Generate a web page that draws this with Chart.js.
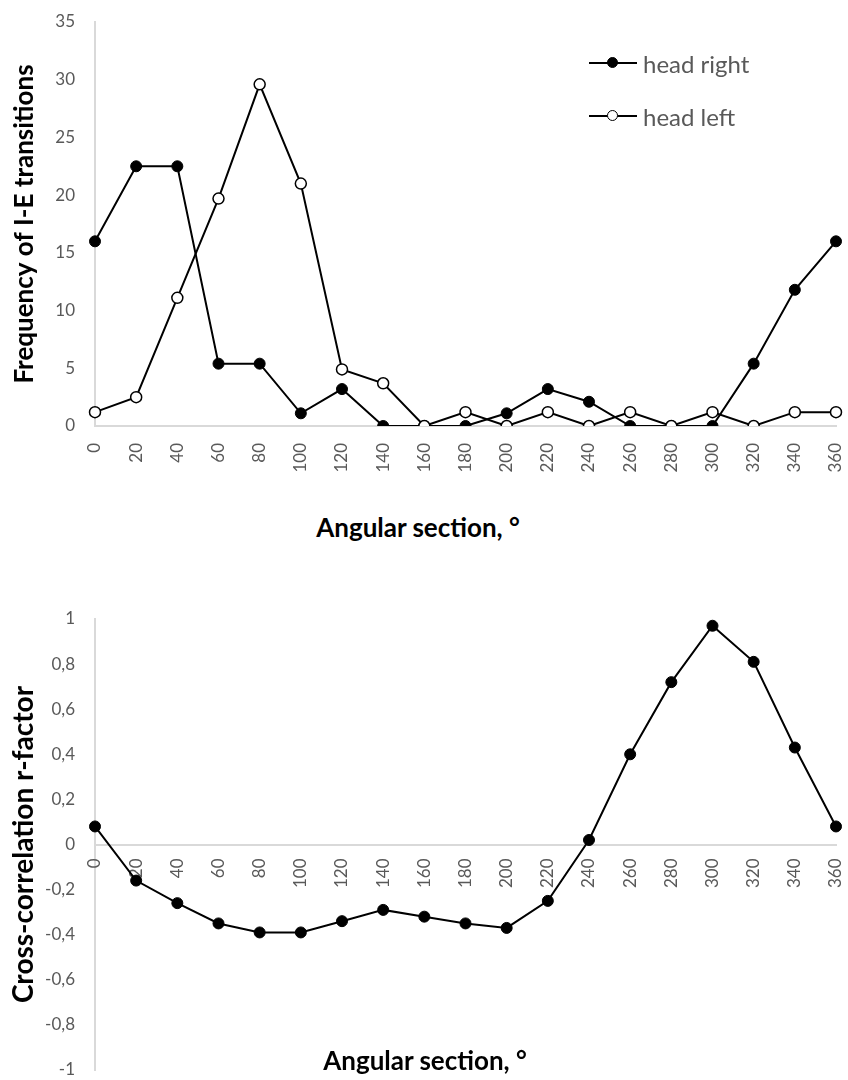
<!DOCTYPE html>
<html>
<head>
<meta charset="utf-8">
<script src="https://cdn.jsdelivr.net/npm/chart.js@4.4.1/dist/chart.umd.min.js"></script>
<style>
  body { margin: 0; background: #fff; width: 848px; height: 1080px; position: relative; overflow: hidden; font-family: Lato, "Open Sans", sans-serif; }
  canvas { position: absolute; left: 0; }
  #topChart { top: 0; }
  #bottomChart { top: 560px; }
  .xtitle { position: absolute; font-weight: bold; font-size: 26px; color: #000; white-space: nowrap; transform: translate(-50%, -50%); }
  .legend-row { position: absolute; left: 589px; height: 30px; display: flex; align-items: center; font-size: 24px; color: #595959; }
  .legend-row .sample { position: relative; width: 48px; height: 2px; background: #000; margin-right: 6px; }
  .legend-row .dot { position: absolute; left: 18px; top: -5px; width: 9px; height: 9px; border: 1.5px solid #000; border-radius: 50%; }
</style>
</head>
<body>
<canvas id="topChart" width="848" height="500"></canvas>
<canvas id="bottomChart" width="848" height="520"></canvas>
<div class="xtitle" style="left:418px; top:527px;">Angular section, °</div>
<div class="xtitle" style="left:425px; top:1060px;">Angular section, °</div>
<div class="legend-row" style="top:48px;"><span class="sample"><span class="dot" style="background:#000;"></span></span>head right</div>
<div class="legend-row" style="top:101px;"><span class="sample"><span class="dot" style="background:#fff;"></span></span>head left</div>
<script>
// angular sections, degrees
const angles = [0, 20, 40, 60, 80, 100, 120, 140, 160, 180, 200, 220, 240, 260, 280, 300, 320, 340, 360];

// frequency of I-E transitions
const headRight = [16, 22.5, 22.5, 5.4, 5.4, 1.1, 3.2, 0, 0, 0, 1.1, 3.2, 2.1, 0, 0, 0, 5.4, 11.8, 16];
const headLeft = [1.2, 2.5, 11.1, 19.7, 29.6, 21, 4.9, 3.7, 0, 1.2, 0, 1.2, 0, 1.2, 0, 1.2, 0, 1.2, 1.2];

// cross-correlation r-factor
const rFactor = [0.08, -0.16, -0.26, -0.35, -0.39, -0.39, -0.34, -0.29, -0.32, -0.35, -0.37, -0.25, 0.02, 0.40, 0.72, 0.97, 0.81, 0.43, 0.08];

const fontFamily = 'Lato, "Open Sans", sans-serif';
const tickFont = { family: fontFamily, size: 17 };
const axisBorder = { display: true, color: '#d9d9d9', width: 2 };
const noGrid = { display: false, drawTicks: false };

// keep the plot area where the reference has it
function fitX(s) { s.paddingLeft = 0; s.paddingRight = 0; }
function fitY(s) { s.width = 95; s.paddingTop = 0; s.paddingBottom = 0; }

function yAxis(min, max, step, title, titleSize, callback) {
    const ticks = { stepSize: step, color: '#595959', font: tickFont, padding: 20 };
    if (callback) ticks.callback = callback;
    return {
        min: min, max: max,
        grid: noGrid,
        border: axisBorder,
        ticks: ticks,
        title: {
            display: true, text: title, color: '#000',
            font: { family: fontFamily, size: titleSize, weight: 'bold' },
            padding: { top: 35 - titleSize, bottom: 0 }
        },
        afterFit: fitY
    };
}

// the r-factor axis runs along r = 0 and tick padding is not honoured there,
// so its rotated labels are drawn here, a little below the line
const zeroAxisLabels = {
    id: 'zeroAxisLabels',
    beforeDatasetsDraw(chart) {
        const { ctx, scales: { x, y } } = chart;
        const y0 = y.getPixelForValue(0) + 14;
        ctx.save();
        ctx.font = '17px ' + fontFamily;
        ctx.fillStyle = '#595959';
        ctx.textAlign = 'right';
        ctx.textBaseline = 'middle';
        chart.data.labels.forEach((label, i) => {
            ctx.save();
            ctx.translate(x.getPixelForValue(i), y0);
            ctx.rotate(-Math.PI / 2);
            ctx.fillText(label, 0, 0);
            ctx.restore();
        });
        ctx.restore();
    }
};

new Chart(document.getElementById('topChart'), {
    type: 'line',
    data: {
        labels: angles.map(String),
        datasets: [{
            label: 'head right',
            data: headRight,
            order: 2,
            borderColor: '#000',
            borderWidth: 2,
            pointRadius: 5.5,
            pointBackgroundColor: '#000',
            pointBorderColor: '#000',
            pointBorderWidth: 1,
            tension: 0
        }, {
            label: 'head left',
            data: headLeft,
            order: 1,
            borderColor: '#000',
            borderWidth: 2,
            pointRadius: 5.5,
            pointBackgroundColor: '#fff',
            pointBorderColor: '#000',
            pointBorderWidth: 1.5,
            tension: 0
        }]
    },
    options: {
        responsive: false,
        animation: false,
        layout: { padding: { top: 22, right: 12, bottom: 0, left: 0 } },
        plugins: { legend: { display: false }, tooltip: { enabled: false } },
        scales: {
            x: {
                type: 'category',
                position: 'bottom',
                grid: noGrid,
                border: axisBorder,
                ticks: { color: '#595959', font: tickFont, autoSkip: false, maxRotation: 90, minRotation: 90, padding: 17 },
                afterFit: s => { fitX(s); s.height = 74; }
            },
            y: yAxis(0, 35, 5, 'Frequency of I-E transitions', 26)
        }
    }
});

new Chart(document.getElementById('bottomChart'), {
    type: 'line',
    data: {
        labels: angles.map(String),
        datasets: [{
            label: 'r-factor',
            data: rFactor,
            borderColor: '#000',
            borderWidth: 2,
            pointRadius: 5.5,
            pointBackgroundColor: '#000',
            pointBorderColor: '#000',
            pointBorderWidth: 1,
            tension: 0
        }]
    },
    options: {
        responsive: false,
        animation: false,
        layout: { padding: { top: 59, right: 12, bottom: 10, left: 0 } },
        plugins: { legend: { display: false }, tooltip: { enabled: false } },
        scales: {
            x: {
                type: 'category',
                position: { y: 0 },
                grid: noGrid,
                border: axisBorder,
                ticks: { display: false, autoSkip: false },
                afterFit: fitX
            },
            y: yAxis(-1, 1, 0.2, 'Cross-correlation r-factor', 28,
                v => String(Number(v.toFixed(1)) || 0).replace('.', ','))
        }
    },
    plugins: [zeroAxisLabels]
});
</script>
</body>
</html>
